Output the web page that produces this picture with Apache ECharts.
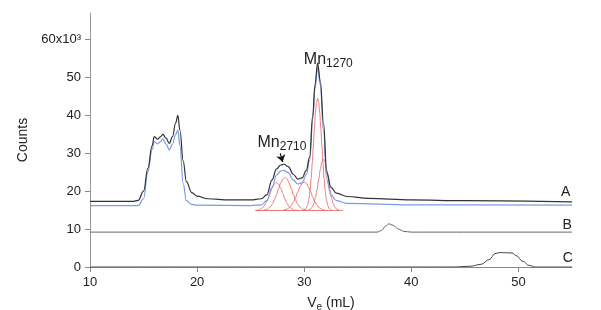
<!DOCTYPE html>
<html lang="en">
<head>
    <meta charset="UTF-8">
    <title>SEC traces</title>
    <style>
        html, body { margin: 0; padding: 0; background: #fff; }
        #chart { width: 601px; height: 310px; }
    </style>
    <script src="https://cdn.jsdelivr.net/npm/echarts@6/dist/echarts.min.js"></script>
</head>
<body>
<div id="chart"></div>
<script>
    // tick values
    var xTicks = [10, 20, 30, 40, 50];
    var yTicks = [0, 10, 20, 30, 40, 50, 60];

    // trace A, black (Ve mL, counts x10^3)
    var traceA = [
        [10, 17.3], [14.0, 17.3], [14.5, 17.6], [15.0, 20], [15.4, 26], [15.8, 32],
        [16.0, 34.4], [16.3, 33.7], [16.6, 34.4], [16.8, 35.0], [17.1, 34], [17.4, 32.6],
        [17.7, 34.4], [18.0, 38], [18.2, 40.0], [18.4, 36], [18.7, 28], [19.0, 22.5],
        [19.5, 19.6], [20.0, 18.7], [21.0, 18.0], [23.0, 17.7], [25.0, 17.7], [26.0, 18],
        [26.5, 19], [27.0, 23], [27.4, 25.8], [27.8, 26.9], [28.1, 27.1], [28.5, 26.5],
        [29.0, 24.4], [29.4, 23.2], [29.8, 23.5], [30.2, 25.5], [30.5, 29], [30.8, 40],
        [31.0, 48], [31.25, 53.8], [31.5, 49], [31.8, 38], [32.1, 25], [32.5, 21],
        [33.0, 19.5], [34.0, 18.6], [36, 18.1], [40, 17.7], [45, 17.5], [55, 17.2]
    ];
    // trace A, blue
    var traceBlue = [
        [10, 16.2], [14.5, 16.2], [15.0, 18], [15.4, 25], [15.8, 31], [16.0, 33.1],
        [16.3, 32.5], [16.6, 33.1], [16.8, 33.8], [17.1, 32.4], [17.4, 30.9], [17.7, 32.4],
        [18.0, 35], [18.2, 36.1], [18.4, 32], [18.7, 22], [19.0, 17.5], [19.5, 16.5],
        [20, 16.3], [25, 16.2], [26.0, 16.4], [26.5, 17.5], [27.0, 21], [27.4, 24.2],
        [27.8, 25.3], [28.1, 25.5], [28.5, 24.9], [29.0, 22.9], [29.4, 21.9], [29.8, 22.2],
        [30.2, 24.4], [30.5, 28], [30.8, 39], [31.0, 47], [31.25, 52.6], [31.5, 48],
        [31.8, 36], [32.1, 23], [32.5, 19], [33.0, 17.5], [34, 16.8], [40, 16.4], [55, 16.3]
    ];
    // fitted components (red)
    var fitBase = [[25.5, 14.9], [33.6, 14.9]];
    var fit1 = [
        [25.4, 14.9], [25.7, 15.0], [26.0, 15.4], [26.2, 15.9], [26.4, 16.75], [26.6, 17.9],
        [26.8, 19.4], [27.0, 20.8], [27.2, 21.9], [27.4, 22.3], [27.6, 21.9], [27.8, 20.8],
        [28.0, 19.4], [28.2, 17.9], [28.4, 16.75], [28.6, 15.9], [28.8, 15.4], [29.1, 15.0], [29.4, 14.9]
    ];
    var fit2 = [
        [26.2, 15.0], [26.5, 15.2], [26.8, 15.75], [27.0, 16.5], [27.2, 17.6], [27.4, 19.0],
        [27.6, 20.6], [27.8, 22.1], [28.0, 23.2], [28.2, 23.6], [28.4, 23.2], [28.6, 22.1],
        [28.8, 20.6], [29.0, 19.0], [29.2, 17.6], [29.4, 16.5], [29.6, 15.75], [29.9, 15.2], [30.2, 15.0]
    ];
    var fit3 = [
        [28.0, 14.95], [28.3, 15.15], [28.6, 15.6], [28.8, 16.3], [29.0, 17.2], [29.2, 18.4],
        [29.4, 19.8], [29.6, 21.1], [29.8, 22.1], [30.0, 22.4], [30.2, 22.1], [30.4, 21.1],
        [30.6, 19.8], [30.8, 18.4], [31.0, 17.2], [31.2, 16.3], [31.4, 15.6], [31.7, 15.15], [32.0, 14.95]
    ];
    var fit4 = [
        [29.95, 15.0], [30.15, 15.35], [30.3, 16.2], [30.45, 18.1], [30.55, 20.3], [30.65, 23.4],
        [30.75, 27.4], [30.85, 31.9], [30.95, 36.6], [31.05, 40.7], [31.15, 43.5], [31.25, 44.5],
        [31.35, 43.5], [31.45, 40.7], [31.55, 36.6], [31.65, 31.9], [31.75, 27.4], [31.85, 23.4],
        [31.95, 20.3], [32.05, 18.1], [32.2, 16.2], [32.35, 15.35], [32.55, 15.0]
    ];
    var fit5 = [
        [30.3, 14.95], [30.55, 15.2], [30.75, 15.8], [30.9, 16.7], [31.05, 18.3], [31.2, 20.4],
        [31.35, 23.1], [31.5, 25.7], [31.65, 27.7], [31.8, 28.4], [31.95, 27.7], [32.1, 25.7],
        [32.25, 23.1], [32.4, 20.4], [32.55, 18.3], [32.7, 16.7], [32.85, 15.8], [33.05, 15.2], [33.3, 14.95]
    ];
    // trace B
    var traceB = [
        [10, 9.2], [36.8, 9.2], [37.2, 9.6], [37.6, 10.8], [37.9, 11.4], [38.3, 11.0],
        [38.8, 10.0], [39.3, 9.4], [40, 9.2], [55, 9.2]
    ];
    // trace C
    var traceC = [
        [10, 0], [44, 0], [45.5, 0.2], [46.5, 0.7], [47.3, 2.0], [47.8, 3.5], [48.2, 3.8],
        [49.4, 3.7], [49.8, 3.0], [50.4, 1.5], [51.0, 0.4], [51.6, 0], [55, 0]
    ];

    var myChart = echarts.init(document.getElementById('chart'));

    var font = 'Liberation Sans, Arial, sans-serif';

    function endLabel(x, y, text) {
        return {
            symbol: 'rect', symbolSize: 1, silent: true,
            itemStyle: { color: 'rgba(0,0,0,0)' },
            label: { show: true, position: 'inside', color: '#222', fontFamily: font, fontSize: 14 },
            data: [{ coord: [x, y], value: text, label: { formatter: text } }]
        };
    }

    var mnRich = {
        m: { fontSize: 16, lineHeight: 16, verticalAlign: 'top', color: '#222', fontFamily: font },
        s: { fontSize: 12, lineHeight: 12, padding: [8, 0, 0, 0], color: '#222', fontFamily: font }
    };

    function redLine(name, data) {
        return {
            name: name, type: 'line', data: data, smooth: 0.3, smoothMonotone: 'x',
            showSymbol: false, silent: true, z: 1,
            lineStyle: { color: '#ec6a6a', width: 0.9 }
        };
    }

    var option = {
        animation: false,
        grid: { left: 90, right: 29, top: 13, bottom: 43, containLabel: false, outerBoundsMode: 'none' },
        xAxis: {
            type: 'value', min: 10, max: 55,
            name: '{v|V}{e|e}{n| (mL)}',
            nameLocation: 'middle', nameGap: 17,
            nameTextStyle: {
                rich: {
                    v: { fontSize: 14, lineHeight: 14, verticalAlign: 'top', color: '#222', fontFamily: font },
                    e: { fontSize: 10, lineHeight: 10, padding: [8, 0, 0, 0], color: '#222', fontFamily: font },
                    n: { fontSize: 14, lineHeight: 14, verticalAlign: 'top', color: '#222', fontFamily: font }
                }
            },
            splitLine: { show: false },
            axisLine: { lineStyle: { color: '#888', width: 1 } },
            axisTick: { length: 5, customValues: xTicks, lineStyle: { color: '#888' } },
            axisLabel: { customValues: xTicks, margin: 9, color: '#222', fontSize: 13, fontFamily: font }
        },
        yAxis: {
            type: 'value', min: 0, max: 67,
            name: 'Counts', nameLocation: 'middle', nameGap: 47, nameRotate: 90,
            nameTextStyle: { color: '#222', fontSize: 14, fontFamily: font },
            splitLine: { show: false },
            axisLine: { show: true, lineStyle: { color: '#999', width: 1 } },
            axisTick: { show: true, length: 5, customValues: yTicks, lineStyle: { color: '#888' } },
            axisLabel: {
                customValues: yTicks, margin: 9, color: '#222', fontSize: 13, fontFamily: font,
                formatter: function (v) { return v === 60 ? '60x10³' : String(v); }
            }
        },
        series: [
            redLine('base', fitBase),
            redLine('g1', fit1), redLine('g2', fit2), redLine('g3', fit3),
            redLine('g4', fit4), redLine('g5', fit5),
            {
                name: 'C', type: 'line', data: traceC, smooth: 0.4, smoothMonotone: 'x',
                showSymbol: false, z: 2,
                lineStyle: { color: '#444', width: 1 },
                markPoint: endLabel(54.6, 2.3, 'C')
            },
            {
                name: 'B', type: 'line', data: traceB, smooth: 0.4, smoothMonotone: 'x',
                showSymbol: false, z: 2,
                lineStyle: { color: '#666', width: 1 },
                markPoint: endLabel(54.55, 11.0, 'B')
            },
            {
                name: 'A blue', type: 'line', data: traceBlue, smooth: 0.4, smoothMonotone: 'x',
                showSymbol: false, z: 3,
                lineStyle: { color: '#7b9ae8', width: 1.2 }
            },
            {
                name: 'A', type: 'line', data: traceA, smooth: 0.4, smoothMonotone: 'x',
                showSymbol: false, z: 4,
                lineStyle: { color: '#333', width: 1.2 },
                markPoint: {
                    symbol: 'rect', symbolSize: 1, silent: true,
                    itemStyle: { color: 'rgba(0,0,0,0)' },
                    label: { show: true, position: 'inside', color: '#222', fontFamily: font, fontSize: 14 },
                    data: [
                        { coord: [54.4, 19.7], label: { formatter: 'A' } },
                        { coord: [32.25, 54.8], label: { formatter: '{m|Mn}{s|1270}', rich: mnRich } },
                        { coord: [27.92, 32.7], label: { formatter: '{m|Mn}{s|2710}', rich: mnRich } }
                    ]
                },
                markLine: {
                    silent: true, symbol: ['none', 'arrow'], symbolSize: 7,
                    label: { show: false },
                    lineStyle: { color: '#111', width: 1.2, type: 'solid' },
                    data: [[{ coord: [27.76, 30.0] }, { coord: [27.99, 27.7] }]]
                }
            }
        ]
    };

    myChart.setOption(option);
</script>
</body>
</html>
